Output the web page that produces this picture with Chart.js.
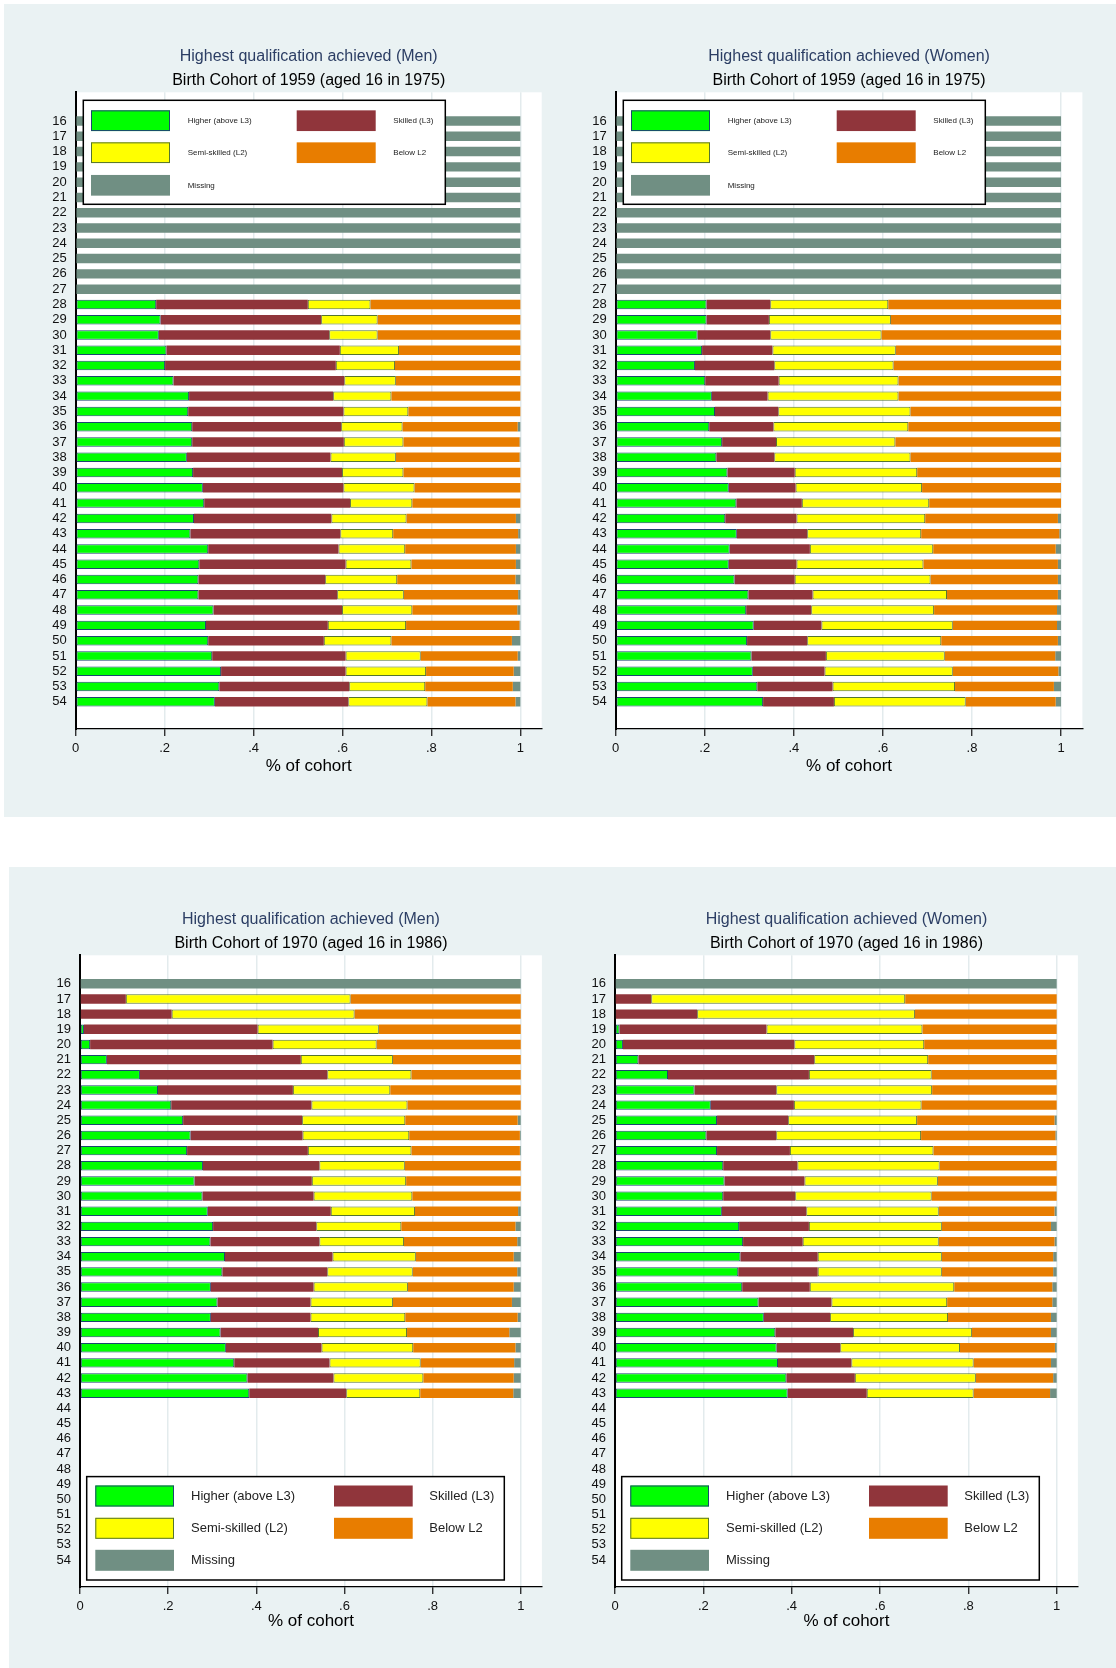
<!DOCTYPE html>
<html>
<head>
<meta charset="utf-8">
<title>Highest qualification achieved by age</title>
<script src="https://cdn.jsdelivr.net/npm/chart.js@4.4.1/dist/chart.umd.min.js"></script>
<style>
  html, body { margin: 0; padding: 0; background: #fff; }
  body { position: relative; width: 1116px; height: 1668px; overflow: hidden; }
  .region { position: absolute; background: #eaf2f3; }
  canvas { position: absolute; }
</style>
</head>
<body>
<div class="region" style="left:4px;top:4px;width:1112px;height:813px"></div>
<div class="region" style="left:9px;top:867px;width:1107px;height:801px"></div>
<canvas id="men59" width="558" height="789" style="left:0;top:0"></canvas>
<canvas id="women59" width="558" height="789" style="left:558px;top:0"></canvas>
<canvas id="men70" width="558" height="784" style="left:0;top:863px"></canvas>
<canvas id="women70" width="558" height="784" style="left:558px;top:863px"></canvas>
<script>
// age rows (tick labels on the y axis) and x ticks
const ages = [16, 17, 18, 19, 20, 21, 22, 23, 24, 25, 26, 27, 28, 29, 30, 31, 32, 33, 34, 35,
  36, 37, 38, 39, 40, 41, 42, 43, 44, 45, 46, 47, 48, 49, 50, 51, 52, 53, 54];
const xTicks = [0, 0.2, 0.4, 0.6, 0.8, 1];

const categories = ['Higher (above L3)', 'Skilled (L3)', 'Semi-skilled (L2)', 'Below L2', 'Missing'];

// cohort born 1959 - men, shares by age 16..54
const men59Higher = [0, 0, 0, 0, 0, 0, 0, 0, 0, 0, 0, 0,
  0.181, 0.191, 0.187, 0.204, 0.201, 0.220, 0.255, 0.253, 0.262, 0.262, 0.250, 0.264, 0.286, 0.289,
  0.266, 0.258, 0.298, 0.278, 0.276, 0.276, 0.310, 0.293, 0.298, 0.307, 0.327, 0.323, 0.313];
const men59Skilled = [0, 0, 0, 0, 0, 0, 0, 0, 0, 0, 0, 0,
  0.341, 0.361, 0.383, 0.390, 0.384, 0.384, 0.324, 0.349, 0.335, 0.341, 0.323, 0.335, 0.316, 0.328,
  0.309, 0.337, 0.293, 0.329, 0.285, 0.312, 0.289, 0.274, 0.260, 0.300, 0.280, 0.292, 0.300];
const men59Semi = [0, 0, 0, 0, 0, 0, 0, 0, 0, 0, 0, 0,
  0.141, 0.127, 0.109, 0.133, 0.133, 0.116, 0.131, 0.146, 0.138, 0.134, 0.147, 0.138, 0.160, 0.140,
  0.169, 0.119, 0.150, 0.148, 0.162, 0.150, 0.158, 0.176, 0.152, 0.169, 0.181, 0.171, 0.178];
const men59Below = [0, 0, 0, 0, 0, 0, 0, 0, 0, 0, 0, 0,
  0.337, 0.321, 0.321, 0.273, 0.282, 0.280, 0.290, 0.252, 0.259, 0.261, 0.278, 0.263, 0.238, 0.243,
  0.246, 0.281, 0.249, 0.235, 0.266, 0.257, 0.236, 0.255, 0.271, 0.218, 0.197, 0.197, 0.198];
const men59Missing = [1, 1, 1, 1, 1, 1, 1, 1, 1, 1, 1, 1,
  0, 0, 0, 0, 0, 0, 0, 0, 0.006, 0.002, 0.002, 0, 0, 0,
  0.010, 0.005, 0.010, 0.010, 0.011, 0.005, 0.007, 0.002, 0.019, 0.006, 0.015, 0.017, 0.011];

// cohort born 1959 - women
const women59Higher = [0, 0, 0, 0, 0, 0, 0, 0, 0, 0, 0, 0,
  0.204, 0.204, 0.184, 0.194, 0.178, 0.201, 0.216, 0.223, 0.210, 0.239, 0.226, 0.251, 0.254, 0.271,
  0.246, 0.272, 0.256, 0.254, 0.267, 0.298, 0.293, 0.310, 0.295, 0.305, 0.308, 0.318, 0.331];
const women59Skilled = [0, 0, 0, 0, 0, 0, 0, 0, 0, 0, 0, 0,
  0.143, 0.140, 0.163, 0.158, 0.178, 0.165, 0.125, 0.142, 0.144, 0.121, 0.130, 0.151, 0.150, 0.147,
  0.160, 0.158, 0.180, 0.152, 0.135, 0.144, 0.146, 0.152, 0.135, 0.167, 0.161, 0.169, 0.159];
const women59Semi = [0, 0, 0, 0, 0, 0, 0, 0, 0, 0, 0, 0,
  0.265, 0.274, 0.250, 0.277, 0.268, 0.269, 0.294, 0.297, 0.303, 0.268, 0.306, 0.275, 0.284, 0.286,
  0.289, 0.256, 0.277, 0.285, 0.305, 0.302, 0.276, 0.295, 0.301, 0.267, 0.288, 0.275, 0.296];
const women59Below = [0, 0, 0, 0, 0, 0, 0, 0, 0, 0, 0, 0,
  0.388, 0.382, 0.403, 0.371, 0.376, 0.365, 0.365, 0.338, 0.341, 0.370, 0.338, 0.321, 0.312, 0.296,
  0.298, 0.310, 0.275, 0.302, 0.286, 0.249, 0.276, 0.234, 0.262, 0.248, 0.237, 0.222, 0.202];
const women59Missing = [1, 1, 1, 1, 1, 1, 1, 1, 1, 1, 1, 1,
  0, 0, 0, 0, 0, 0, 0, 0, 0.002, 0.002, 0, 0.002, 0, 0,
  0.007, 0.004, 0.012, 0.007, 0.007, 0.007, 0.009, 0.009, 0.007, 0.013, 0.006, 0.016, 0.012];

// cohort born 1970 - men, ages 16..43 only
const men70Higher = [0, 0, 0.002, 0.009, 0.023, 0.061, 0.136, 0.177, 0.207, 0.234, 0.251, 0.243, 0.279, 0.260,
  0.278, 0.290, 0.302, 0.296, 0.329, 0.323, 0.297, 0.312, 0.297, 0.319, 0.331, 0.350, 0.380, 0.384];
const men70Skilled = [0, 0.104, 0.206, 0.394, 0.414, 0.440, 0.425, 0.306, 0.318, 0.270, 0.254, 0.274, 0.264, 0.266,
  0.252, 0.279, 0.234, 0.247, 0.244, 0.238, 0.233, 0.211, 0.226, 0.221, 0.217, 0.216, 0.195, 0.220];
const men70Semi = [0, 0.510, 0.415, 0.275, 0.236, 0.209, 0.191, 0.221, 0.218, 0.234, 0.242, 0.235, 0.194, 0.214,
  0.224, 0.191, 0.193, 0.192, 0.189, 0.194, 0.214, 0.187, 0.215, 0.202, 0.208, 0.207, 0.204, 0.168];
const men70Below = [0, 0.386, 0.377, 0.322, 0.327, 0.290, 0.248, 0.296, 0.257, 0.255, 0.251, 0.246, 0.263, 0.260,
  0.246, 0.234, 0.259, 0.257, 0.222, 0.237, 0.240, 0.270, 0.255, 0.232, 0.232, 0.212, 0.205, 0.211];
const men70Missing = [1, 0, 0, 0, 0, 0, 0, 0, 0, 0.007, 0.002, 0.002, 0, 0,
  0, 0.006, 0.012, 0.008, 0.016, 0.008, 0.016, 0.020, 0.007, 0.026, 0.012, 0.015, 0.016, 0.017];

// cohort born 1970 - women
const women70Higher = [0, 0, 0.002, 0.010, 0.018, 0.053, 0.120, 0.180, 0.217, 0.231, 0.207, 0.231, 0.245, 0.248,
  0.245, 0.242, 0.281, 0.290, 0.284, 0.279, 0.288, 0.325, 0.337, 0.363, 0.366, 0.369, 0.388, 0.391];
const women70Skilled = [0, 0.082, 0.184, 0.333, 0.388, 0.398, 0.319, 0.185, 0.188, 0.161, 0.158, 0.165, 0.168, 0.181,
  0.163, 0.191, 0.158, 0.135, 0.175, 0.180, 0.153, 0.165, 0.150, 0.176, 0.144, 0.166, 0.155, 0.179];
const women70Semi = [0, 0.575, 0.493, 0.353, 0.294, 0.258, 0.278, 0.353, 0.289, 0.292, 0.328, 0.325, 0.322, 0.302,
  0.309, 0.300, 0.301, 0.308, 0.281, 0.281, 0.327, 0.262, 0.267, 0.269, 0.271, 0.277, 0.274, 0.242];
const women70Below = [0, 0.343, 0.321, 0.304, 0.300, 0.291, 0.283, 0.282, 0.306, 0.311, 0.304, 0.279, 0.265, 0.269,
  0.283, 0.262, 0.247, 0.262, 0.252, 0.252, 0.222, 0.238, 0.233, 0.179, 0.215, 0.175, 0.175, 0.173];
const women70Missing = [1, 0, 0, 0, 0, 0, 0, 0, 0, 0.005, 0.003, 0, 0, 0,
  0, 0.005, 0.013, 0.005, 0.008, 0.008, 0.010, 0.010, 0.013, 0.013, 0.004, 0.013, 0.008, 0.015];

const fills = ['#00ff00', '#90353b', '#ffff00', '#e87d00', '#708f83'];
const edges = ['#1a476f', '#90353b', '#55752f', '#e87d00', '#708f83'];
const edgeWidths = [1, 0, 1, 0, 0];
const FONT = "'Liberation Sans', Arial, sans-serif";

// white plot region behind the bars
const plotBg = {
  id: 'plotBg',
  beforeDraw(chart) {
    const { ctx, chartArea: a } = chart;
    ctx.save();
    ctx.fillStyle = '#ffffff';
    ctx.fillRect(a.left, a.top, a.right - a.left, a.bottom - a.top);
    ctx.restore();
  }
};

// boxed two-column legend drawn inside the plot region
const boxLegend = {
  id: 'boxLegend',
  afterDatasetsDraw(chart, args, o) {
    const { ctx, chartArea: a } = chart;
    const x = a.left + o.left;
    const y = o.anchor === 'top' ? a.top + o.offset : a.bottom - o.offset - o.height;
    ctx.save();
    ctx.fillStyle = '#ffffff';
    ctx.fillRect(x, y, o.width, o.height);
    ctx.lineWidth = 1.5;
    ctx.strokeStyle = '#000';
    ctx.strokeRect(x, y, o.width, o.height);
    ctx.font = o.fontSize + 'px ' + FONT;
    ctx.textBaseline = 'middle';
    chart.data.datasets.forEach((ds, i) => {
      const col = i % 2, row = Math.floor(i / 2);
      const sx = x + o.symbolX[col];
      const cy = y + o.rowY[row];
      ctx.fillStyle = ds.backgroundColor;
      ctx.fillRect(sx, cy - o.symbolH / 2, o.symbolW, o.symbolH);
      if (ds.borderWidth) {
        ctx.lineWidth = 1;
        ctx.strokeStyle = ds.borderColor;
        ctx.strokeRect(sx + 0.5, cy - o.symbolH / 2 + 0.5, o.symbolW - 1, o.symbolH - 1);
      }
      ctx.fillStyle = '#222';
      ctx.fillText(ds.label, x + o.textX[col], cy);
    });
    ctx.restore();
  }
};

const legendTop = { anchor: 'top', left: 7.6, offset: 8, width: 362, height: 104,
  symbolX: [7.7, 213.4], symbolW: 79, symbolH: 20.7, rowY: [20.4, 52.4, 85], textX: [104.4, 310], fontSize: 8 };
const legendBottom = { anchor: 'bottom', left: 6.7, offset: 7, width: 417.6, height: 103.4,
  symbolX: [8.6, 247.3], symbolW: 78.7, symbolH: 21, rowY: [19.4, 51.7, 83.7], textX: [104.3, 342.6], fontSize: 13 };

function makeChart(id, p) {
  const datasets = categories.map((label, k) => ({
    label,
    data: p.values[k].map((v, i) => ({ x: v, y: ages[i] })),
    backgroundColor: fills[k],
    borderColor: edges[k],
    borderWidth: edgeWidths[k],
    borderSkipped: false,
    categoryPercentage: 1,
    barPercentage: 0.62
  }));

  return new Chart(document.getElementById(id), {
    type: 'bar',
    data: { datasets },
    plugins: [plotBg, boxLegend],
    options: {
      indexAxis: 'y',
      responsive: false,
      animation: false,
      events: [],
      layout: { padding: { left: 0, right: p.padRight, top: 0, bottom: 0 } },
      plugins: {
        legend: { display: false },
        tooltip: { enabled: false },
        title: {
          display: true, text: p.title, color: '#2c3e64', fullSize: false,
          font: { family: FONT, size: 16, weight: 'normal' },
          padding: { top: 47.1, bottom: 0 }
        },
        subtitle: {
          display: true, text: p.subtitle, color: '#000', fullSize: false,
          font: { family: FONT, size: 16, weight: 'normal' },
          padding: { top: 4.8, bottom: 2 }
        },
        boxLegend: p.legend
      },
      scales: {
        x: {
          type: 'linear', stacked: true, min: 0, max: 1.048,
          afterBuildTicks: s => { s.ticks = xTicks.map(v => ({ value: v })); },
          afterFit: s => { s.height = 60; },
          grid: { color: '#e3ebed', lineWidth: 1.5, drawTicks: true, tickLength: 7, tickColor: '#111', tickWidth: 1.2 },
          border: { display: true, color: '#000', width: 1.3 },
          ticks: {
            padding: 5, color: '#111', font: { family: FONT, size: 13 },
            callback: v => (v === 0 || v === 1) ? String(v) : String(v).replace(/^0/, '')
          },
          title: {
            display: true, text: '% of cohort', color: '#000',
            font: { family: FONT, size: 17 }, padding: { top: 0, bottom: p.axisTitlePad }
          }
        },
        y: {
          type: 'linear', stacked: true, reverse: true, offset: false, min: 14.12, max: 55.78,
          afterBuildTicks: s => { s.ticks = ages.map(v => ({ value: v })); },
          afterFit: s => { s.width = p.yWidth; },
          grid: { display: false, drawTicks: false, offset: false },
          border: { display: true, color: '#000', width: 2 },
          ticks: { autoSkip: false, padding: 9, color: '#111', font: { family: FONT, size: 13 } }
        }
      }
    }
  });
}

makeChart('men59', {
  title: 'Highest qualification achieved (Men)',
  subtitle: 'Birth Cohort of 1959 (aged 16 in 1975)',
  values: [men59Higher, men59Skilled, men59Semi, men59Below, men59Missing],
  yWidth: 75.7, padRight: 16.3, axisTitlePad: 12.8, legend: legendTop
});
makeChart('women59', {
  title: 'Highest qualification achieved (Women)',
  subtitle: 'Birth Cohort of 1959 (aged 16 in 1975)',
  values: [women59Higher, women59Skilled, women59Semi, women59Below, women59Missing],
  yWidth: 57.7, padRight: 33.6, axisTitlePad: 12.8, legend: legendTop
});
makeChart('men70', {
  title: 'Highest qualification achieved (Men)',
  subtitle: 'Birth Cohort of 1970 (aged 16 in 1986)',
  values: [men70Higher, men70Skilled, men70Semi, men70Below, men70Missing],
  yWidth: 80, padRight: 16.1, axisTitlePad: 15.5, legend: legendBottom
});
makeChart('women70', {
  title: 'Highest qualification achieved (Women)',
  subtitle: 'Birth Cohort of 1970 (aged 16 in 1986)',
  values: [women70Higher, women70Skilled, women70Semi, women70Below, women70Missing],
  yWidth: 57, padRight: 38.1, axisTitlePad: 15.5, legend: legendBottom
});
</script>
</body>
</html>
